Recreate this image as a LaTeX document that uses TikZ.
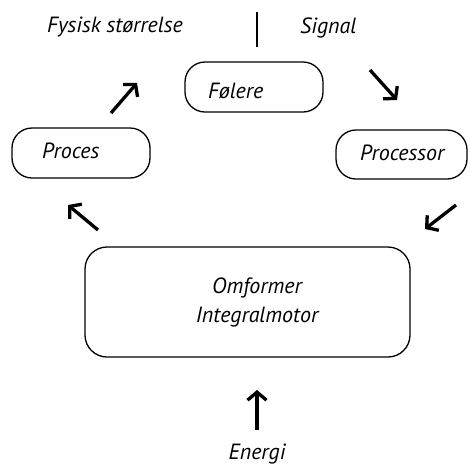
\documentclass[tikz,border=0pt]{standalone}
\usepackage{fontspec}
\setmainfont{PT Sans}
\usetikzlibrary{arrows.meta}
\begin{document}
\begin{tikzpicture}[x=1pt,y=-1pt,
  txt/.style={font=\fontsize{22}{29}\selectfont\itshape},
  lbl/.style={txt, inner sep=0pt, anchor=base west},
  rbox/.style={txt, draw, line width=1.3pt, rounded corners=20pt, align=left, text depth=0pt},
  arr/.style={line width=3.3pt, -{Straight Barb[length=8pt,width=19pt,line width=3.3pt]}}]
\useasboundingbox (0,0) rectangle (470,464);
% labels at top
\node[lbl] (fys) at (47,32) {Fysisk størrelse};
\node[lbl] (sig) at (300,33) {Signal};
\coordinate (vt) at (257,12);
\coordinate (vb) at (257,47);
\draw[line width=2.2pt] (vt) -- (vb);
% boxes
\node[rbox, minimum height=50pt, text height=22pt, text width=92pt, inner xsep=23pt] (fol) at (254,87) {Følere};
\node[rbox, minimum height=50pt, text height=10pt, text width=78pt, inner xsep=30pt] (proc) at (81,153) {Proces};
\node[rbox, minimum height=49pt, text height=11pt, text width=83pt, inner xsep=24pt] (cpu) at (401.5,154.5) {Processor};
\node[draw, line width=1.3pt, rounded corners=22pt, minimum width=325pt, minimum height=110pt] (conv) at (247.5,302) {};
\node[txt, inner sep=0pt, align=center, anchor=base] (convt) at (257,322) {Omformer\\Integralmotor};
\node[lbl, anchor=base] (ene) at (257,459) {Energi};
% arrows
\coordinate (a1s) at (111,113); \coordinate (a1e) at (137,83);
\coordinate (a2s) at (370,70);  \coordinate (a2e) at (397,100);
\coordinate (a3s) at (456,205); \coordinate (a3e) at (425,229);
\coordinate (a4s) at (98,230);  \coordinate (a4e) at (68,205);
\coordinate (a5s) at (257,430); \coordinate (a5e) at (257,390);
\draw[arr] (a1s) -- (a1e);
\draw[arr] (a2s) -- (a2e);
\draw[arr] (a3s) -- (a3e);
\draw[arr] (a4s) -- (a4e);
\draw[arr] (a5s) -- (a5e);
\end{tikzpicture}
\end{document}
